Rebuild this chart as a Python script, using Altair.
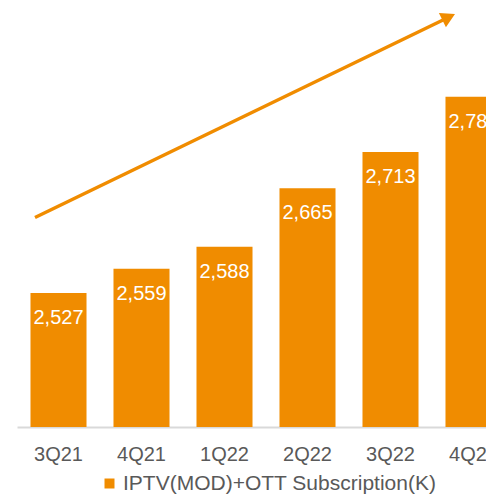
import altair as alt
import pandas as pd

quarters = ["3Q21", "4Q21", "1Q22", "2Q22", "3Q22", "4Q22"]
subs = [2527, 2559, 2588, 2665, 2713, 2786]
series_name = "IPTV(MOD)+OTT Subscription(K)"

ORANGE = "#F08C00"
FONT = "Liberation Sans"
Y_MIN, Y_MAX = 2350, 2903

df = pd.DataFrame({"quarter": quarters, "subs": subs, "series": [series_name] * len(quarters)})

x_scale = alt.Scale(paddingInner=0.325, paddingOuter=0.1625, range=[0, 498])
x_enc = alt.X("quarter:N", sort=quarters, title=None, scale=x_scale,
              axis=alt.Axis(labelAngle=0, labelFontSize=20, labelFont=FONT, labelColor="#595959",
                            ticks=False, labelPadding=17, domainColor="#D9D9D9", domainWidth=2,
                            grid=False))
y_scale = alt.Scale(domain=[Y_MIN, Y_MAX], zero=False, nice=False)

base = alt.Chart(df)

bars = base.mark_bar().encode(
    x=x_enc,
    y=alt.Y("subs:Q", scale=y_scale, axis=None),
    y2=alt.datum(Y_MIN),
    color=alt.Color("series:N", scale=alt.Scale(range=[ORANGE]),
                    legend=alt.Legend(title=None, orient="none", legendX=82, legendY=465,
                                      symbolType="square", symbolSize=100, symbolStrokeWidth=0,
                                      labelFontSize=21, labelFont=FONT, labelColor="#595959",
                                      labelOffset=3, labelLimit=0, padding=0)),
)

labels = base.mark_text(color="white", fontSize=20, font=FONT, baseline="alphabetic", dy=31).encode(
    x=alt.X("quarter:N", sort=quarters),
    y=alt.Y("subs:Q", scale=y_scale),
    text=alt.Text("subs:Q", format=","),
)

arrow_df = pd.DataFrame({"a": [0]})
arrow_line = alt.Chart(arrow_df).mark_rule(color=ORANGE, strokeWidth=3.5).encode(
    x=alt.value(18), y=alt.value(209.5), x2=alt.value(426), y2=alt.value(12)
)
arrow_head = alt.Chart(arrow_df).mark_point(
    shape="M0,-0.875L1,0.875L-1,0.875Z", filled=True, color=ORANGE, opacity=1,
    size=256, angle=64, strokeWidth=0
).encode(x=alt.value(431.7), y=alt.value(9))

chart = alt.layer(bars, labels, arrow_line, arrow_head).properties(
    width=469, height=419,
    autosize=alt.AutoSizeParams(type="none"),
    padding={"left": 9, "top": 0, "right": 0, "bottom": 67},
).configure_view(stroke=None)

chart.save("out.html", embed_options={"renderer": "svg", "actions": False})
